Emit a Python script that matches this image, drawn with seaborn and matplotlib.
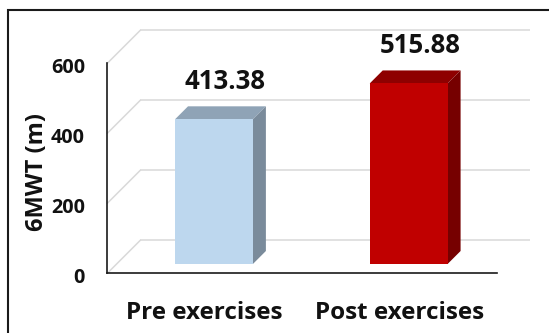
import matplotlib
matplotlib.use("Agg")
import matplotlib.pyplot as plt
import numpy as np
import pandas as pd
import seaborn as sns
from matplotlib.patches import Polygon, Rectangle
from matplotlib.transforms import ScaledTranslation

# Six-minute walk test distance before and after the exercise programme
categories = ["Pre exercises", "Post exercises"]
walk_distance = [413.38, 515.88]
value_labels = ["413.38", "515.88"]
y_ticks = [0, 200, 400, 600]

front_colors = ["#BDD7EE", "#C00000"]
top_colors = ["#8FA3B6", "#8E0000"]
side_colors = ["#7A8B9B", "#760000"]

sns.set_theme(style="white")
plt.rcParams["font.family"] = ["Open Sans", "DejaVu Sans"]
plt.rcParams["font.weight"] = "bold"

W, H, DPI = 549, 333, 100
fig = plt.figure(figsize=(W / DPI, H / DPI), dpi=DPI)
fig.patch.set_facecolor("white")

# front plane of the 3-D box (where the axis lines sit)
ax = fig.add_axes([107.3 / W, (H - 273.3) / H, 389.4 / W, 210 / H])
ax.set_facecolor("none")

df = pd.DataFrame({"phase": categories, "distance": walk_distance})
sns.barplot(data=df, x="phase", y="distance", hue="phase",
            palette=front_colors, saturation=1, width=0.4,
            linewidth=0, legend=False, ax=ax, zorder=3)
ax.set_xlim(-0.5, 1.5)
ax.set_ylim(0, 600)

BAR_SHIFT = 9.3    # px: bars stand part way into the box
BAR_DEPTH = 13.0   # px: visible depth of each bar
WALL_SHIFT = 33.0  # px: back wall of the box


def px_shift(dx, dy):
    return ScaledTranslation(dx / DPI, dy / DPI, fig.dpi_scale_trans)


# back-wall gridlines plus the diagonal lines on the left side wall
wall = ax.transData + px_shift(WALL_SHIFT, WALL_SHIFT)
to_data = ax.transData.inverted()
for yv in y_ticks:
    ax.plot([-0.5, 1.5], [yv, yv], color="#D9D9D9", lw=1.1,
            transform=wall, zorder=1, clip_on=False, solid_capstyle="butt")
    p0 = ax.transData.transform((-0.5, yv))
    p1 = p0 + np.array([WALL_SHIFT, WALL_SHIFT])
    d = to_data.transform(np.vstack([p0, p1]))
    ax.plot(d[:, 0], d[:, 1], color="#D9D9D9", lw=1.1, zorder=1, clip_on=False)

# shift the front faces into the box and add top and side faces
bar_shift = px_shift(BAR_SHIFT, BAR_SHIFT)
bars = sorted([p for p in ax.patches if p.get_height() > 0], key=lambda p: p.get_x())
for i, bar in enumerate(bars):
    x0, w, h = bar.get_x(), bar.get_width(), bar.get_height()
    (l, b), (r, t) = ax.transData.transform([(x0, 0), (x0 + w, h)])
    l, b, r, t = l + BAR_SHIFT, b + BAR_SHIFT, r + BAR_SHIFT, t + BAR_SHIFT
    d = BAR_DEPTH
    top = [(l, t), (r, t), (r + d, t + d), (l + d, t + d)]
    side = [(r, b), (r + d, b + d), (r + d, t + d), (r, t)]
    for verts, col in ((top, top_colors[i]), (side, side_colors[i])):
        ax.add_patch(Polygon(to_data.transform(verts), closed=True,
                             facecolor=col, edgecolor="none", zorder=2.5,
                             clip_on=False))
    bar.set_transform(ax.transData + bar_shift)
    bar.set_clip_on(False)
    ax.annotate(value_labels[i], xy=(x0 + w / 2, walk_distance[i]),
                xytext=(20.5 * 0.72, 39.5 * 0.72), textcoords="offset points",
                ha="center", va="baseline", fontsize=18.5, fontweight="bold",
                color="#111111", zorder=5)

# axes styling
for side_name in ("top", "right"):
    ax.spines[side_name].set_visible(False)
for side_name in ("left", "bottom"):
    ax.spines[side_name].set_color("#1A1A1A")
    ax.spines[side_name].set_linewidth(1.2)
    ax.spines[side_name].set_zorder(4)

ax.set_yticks(y_ticks)
ax.set_yticklabels([str(v) for v in y_ticks])
ax.tick_params(axis="y", length=0, pad=16, labelsize=14.2, labelcolor="#111111")
ax.tick_params(axis="x", length=0, pad=18.5, labelsize=17.5, labelcolor="#111111")
for lab in ax.get_yticklabels() + ax.get_xticklabels():
    lab.set_fontweight("bold")
    lab.set_transform(lab.get_transform() + px_shift(0, -2.5))
ax.set_xlabel("")
ax.set_ylabel("6MWT (m)", fontsize=17, fontweight="bold", color="#111111")
ax.yaxis.set_label_coords(-0.149, 0.482)

# chart area frame
fig.add_artist(Rectangle((8 / W, -0.1), 1.2, (H - 10) / H + 0.1,
                         transform=fig.transFigure, fill=False,
                         edgecolor="#1A1A1A", lw=1.5))

fig.savefig("out.png", dpi=DPI, facecolor="white")
